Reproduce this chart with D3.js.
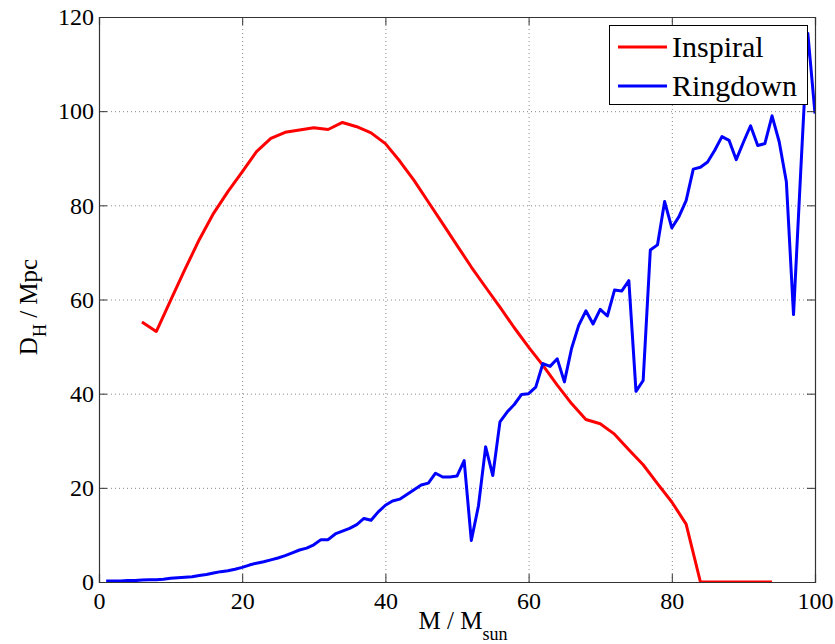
<!DOCTYPE html>
<html>
<head>
<meta charset="utf-8">
<script src="https://cdn.jsdelivr.net/npm/d3@7"></script>
<style>
  body { margin: 0; background: #fff; }
  svg text { font-family: 'Liberation Serif', 'Times New Roman', serif; fill: #000; }
</style>
</head>
<body>
<div id="root"></div>
<script>
const margin = { left: 99, right: 20, top: 17, bottom: 62 };
const width = 835 - margin.left - margin.right;
const height = 644 - margin.top - margin.bottom;

// Inspiral horizon distance (Mpc) vs total mass
const inspiralMass = [6, 8, 10, 12, 14, 16, 18, 20, 22, 24, 26, 28, 30, 32, 34, 36, 38, 40,
  42, 44, 46, 48, 50, 52, 54, 56, 58, 60, 62, 64, 66, 68, 70, 72, 74, 76, 78, 80, 82, 84,
  86, 88, 90, 92, 94];
const inspiralDist = [55.2, 53.2, 59.8, 66.4, 72.7, 78.3, 82.9, 87.1, 91.4, 94.2, 95.5, 96.0,
  96.5, 96.1, 97.6, 96.7, 95.4, 93.1, 89.4, 85.3, 80.7, 76.1, 71.5, 66.9, 62.6, 58.4, 54.0,
  49.9, 46.0, 41.8, 37.9, 34.5, 33.6, 31.4, 28.1, 24.9, 20.9, 17.0, 12.3, 0, 0, 0, 0, 0, 0];

// Ringdown horizon distance (Mpc) vs total mass
const ringdownMass = [1, 2, 3, 4, 5, 6, 7, 8, 9, 10, 11, 12, 13, 14, 15, 16, 17, 18, 19, 20,
  21, 22, 23, 24, 25, 26, 27, 28, 29, 30, 31, 32, 33, 34, 35, 36, 37, 38, 39, 40,
  41, 42, 43, 44, 45, 46, 47, 48, 49, 50, 51, 52, 53, 54, 55, 56, 57, 58, 59, 60,
  61, 62, 63, 64, 65, 66, 67, 68, 69, 70, 71, 72, 73, 74, 75, 76, 77, 78, 79, 80,
  81, 82, 83, 84, 85, 86, 87, 88, 89, 90, 91, 92, 93, 94, 95, 96, 97, 98, 99, 100];
const ringdownDist = [0.2, 0.2, 0.2, 0.3, 0.3, 0.4, 0.5, 0.5, 0.6, 0.8, 0.9, 1.0, 1.1, 1.4,
  1.6, 1.9, 2.2, 2.4, 2.7, 3.1, 3.6, 4.0, 4.3, 4.7, 5.1, 5.6, 6.2, 6.8, 7.2, 7.9, 9.0, 9.0,
  10.2, 10.8, 11.4, 12.2, 13.5, 13.1, 14.9, 16.3, 17.2, 17.6, 18.6, 19.6, 20.6, 21.0, 23.1,
  22.3, 22.3, 22.5, 25.8, 8.8, 16.2, 28.7, 22.6, 34.0, 36.1, 37.7, 39.8, 40.0, 41.4, 46.4,
  45.8, 47.4, 42.5, 49.6, 54.5, 57.6, 54.8, 57.9, 56.5, 62.0, 61.8, 64.0, 40.5, 42.8, 70.5,
  71.6, 80.8, 75.2, 77.6, 81.0, 87.7, 88.1, 89.2, 91.7, 94.6, 93.8, 89.7, 93.4, 96.9, 92.7,
  93.1, 99.0, 93.5, 85.0, 56.8, 87.0, 116.5, 99.5];

const xTicks = [0, 20, 40, 60, 80, 100];
const yTicks = [0, 20, 40, 60, 80, 100, 120];
const seriesNames = ['Inspiral', 'Ringdown'];
const seriesColors = ['#ff0000', '#0000ff'];

const svg = d3.select('#root').append('svg')
  .attr('width', 835)
  .attr('height', 644);

const g = svg.append('g')
  .attr('transform', `translate(${margin.left}, ${margin.top})`);

const x = d3.scaleLinear().domain([0, 100]).range([0, width]);
const y = d3.scaleLinear().domain([0, 120]).range([height, 0]);

// dotted grid
g.append('g')
  .attr('transform', `translate(0, ${height})`)
  .call(d3.axisBottom(x).tickValues(xTicks.slice(1, -1)).tickSize(-height).tickFormat(''))
  .call(a => a.select('.domain').remove())
  .selectAll('line')
  .attr('stroke', '#888')
  .attr('stroke-dasharray', '1,3');

g.append('g')
  .call(d3.axisLeft(y).tickValues(yTicks.slice(1, -1)).tickSize(-width).tickFormat(''))
  .call(a => a.select('.domain').remove())
  .selectAll('line')
  .attr('stroke', '#888')
  .attr('stroke-dasharray', '1,3');

// data lines
const data = [
  inspiralMass.map((m, i) => [m, inspiralDist[i]]),
  ringdownMass.map((m, i) => [m, ringdownDist[i]])
];

const line = d3.line()
  .x(d => x(d[0]))
  .y(d => y(d[1]));

g.append('defs').append('clipPath').attr('id', 'clip')
  .append('rect').attr('width', width).attr('height', height);

g.append('g').attr('clip-path', 'url(#clip)')
  .selectAll('path').data(data)
  .enter().append('path')
    .attr('d', line)
    .attr('fill', 'none')
    .attr('stroke', (d, i) => seriesColors[i])
    .attr('stroke-width', 3)
    .attr('stroke-linejoin', 'round');

// axes with inward ticks on all four sides
const tickLen = 8;
const xAxis = g.append('g')
  .attr('transform', `translate(0, ${height})`)
  .call(d3.axisBottom(x).tickValues(xTicks).tickSize(-tickLen).tickPadding(10));
const yAxis = g.append('g')
  .call(d3.axisLeft(y).tickValues(yTicks).tickSize(-tickLen).tickPadding(5));
g.append('g')
  .call(d3.axisTop(x).tickValues(xTicks).tickSize(-tickLen).tickFormat(''));
g.append('g')
  .attr('transform', `translate(${width}, 0)`)
  .call(d3.axisRight(y).tickValues(yTicks).tickSize(-tickLen).tickFormat(''));

g.selectAll('.domain').attr('stroke', '#333').attr('stroke-width', 1.2);
g.selectAll('.tick line').filter(function () { return this.getAttribute('stroke-dasharray') === null; })
  .attr('stroke', '#333');
g.selectAll('.tick text')
  .style('font-family', "'Liberation Serif', 'Times New Roman', serif")
  .style('font-size', '24px');

// axis labels
const xLabel = svg.append('text')
  .attr('x', 463)
  .attr('y', 629)
  .attr('text-anchor', 'middle')
  .style('font-size', '25px');
xLabel.append('tspan').text('M / M');
xLabel.append('tspan').attr('dy', 11).style('font-size', '18px').text('sun');

const yLabel = svg.append('text')
  .attr('transform', 'translate(37, 307) rotate(-90)')
  .attr('text-anchor', 'middle')
  .style('font-size', '25px');
yLabel.append('tspan').text('D');
yLabel.append('tspan').attr('dy', 9).style('font-size', '18px').text('H');
yLabel.append('tspan').attr('dy', -9).text(' / Mpc');

// legend
const legend = svg.append('g');
legend.append('rect')
  .attr('x', 609.5).attr('y', 25.5)
  .attr('width', 198).attr('height', 79)
  .attr('fill', '#fff')
  .attr('stroke', '#000')
  .attr('stroke-width', 1);

seriesNames.forEach((name, i) => {
  const ly = 47 + i * 39;
  legend.append('line')
    .attr('x1', 618).attr('x2', 667)
    .attr('y1', ly).attr('y2', ly)
    .attr('stroke', seriesColors[i])
    .attr('stroke-width', 3);
  legend.append('text')
    .attr('x', 672)
    .attr('y', ly + 10)
    .style('font-size', '30px')
    .text(name);
});
</script>
</body>
</html>
